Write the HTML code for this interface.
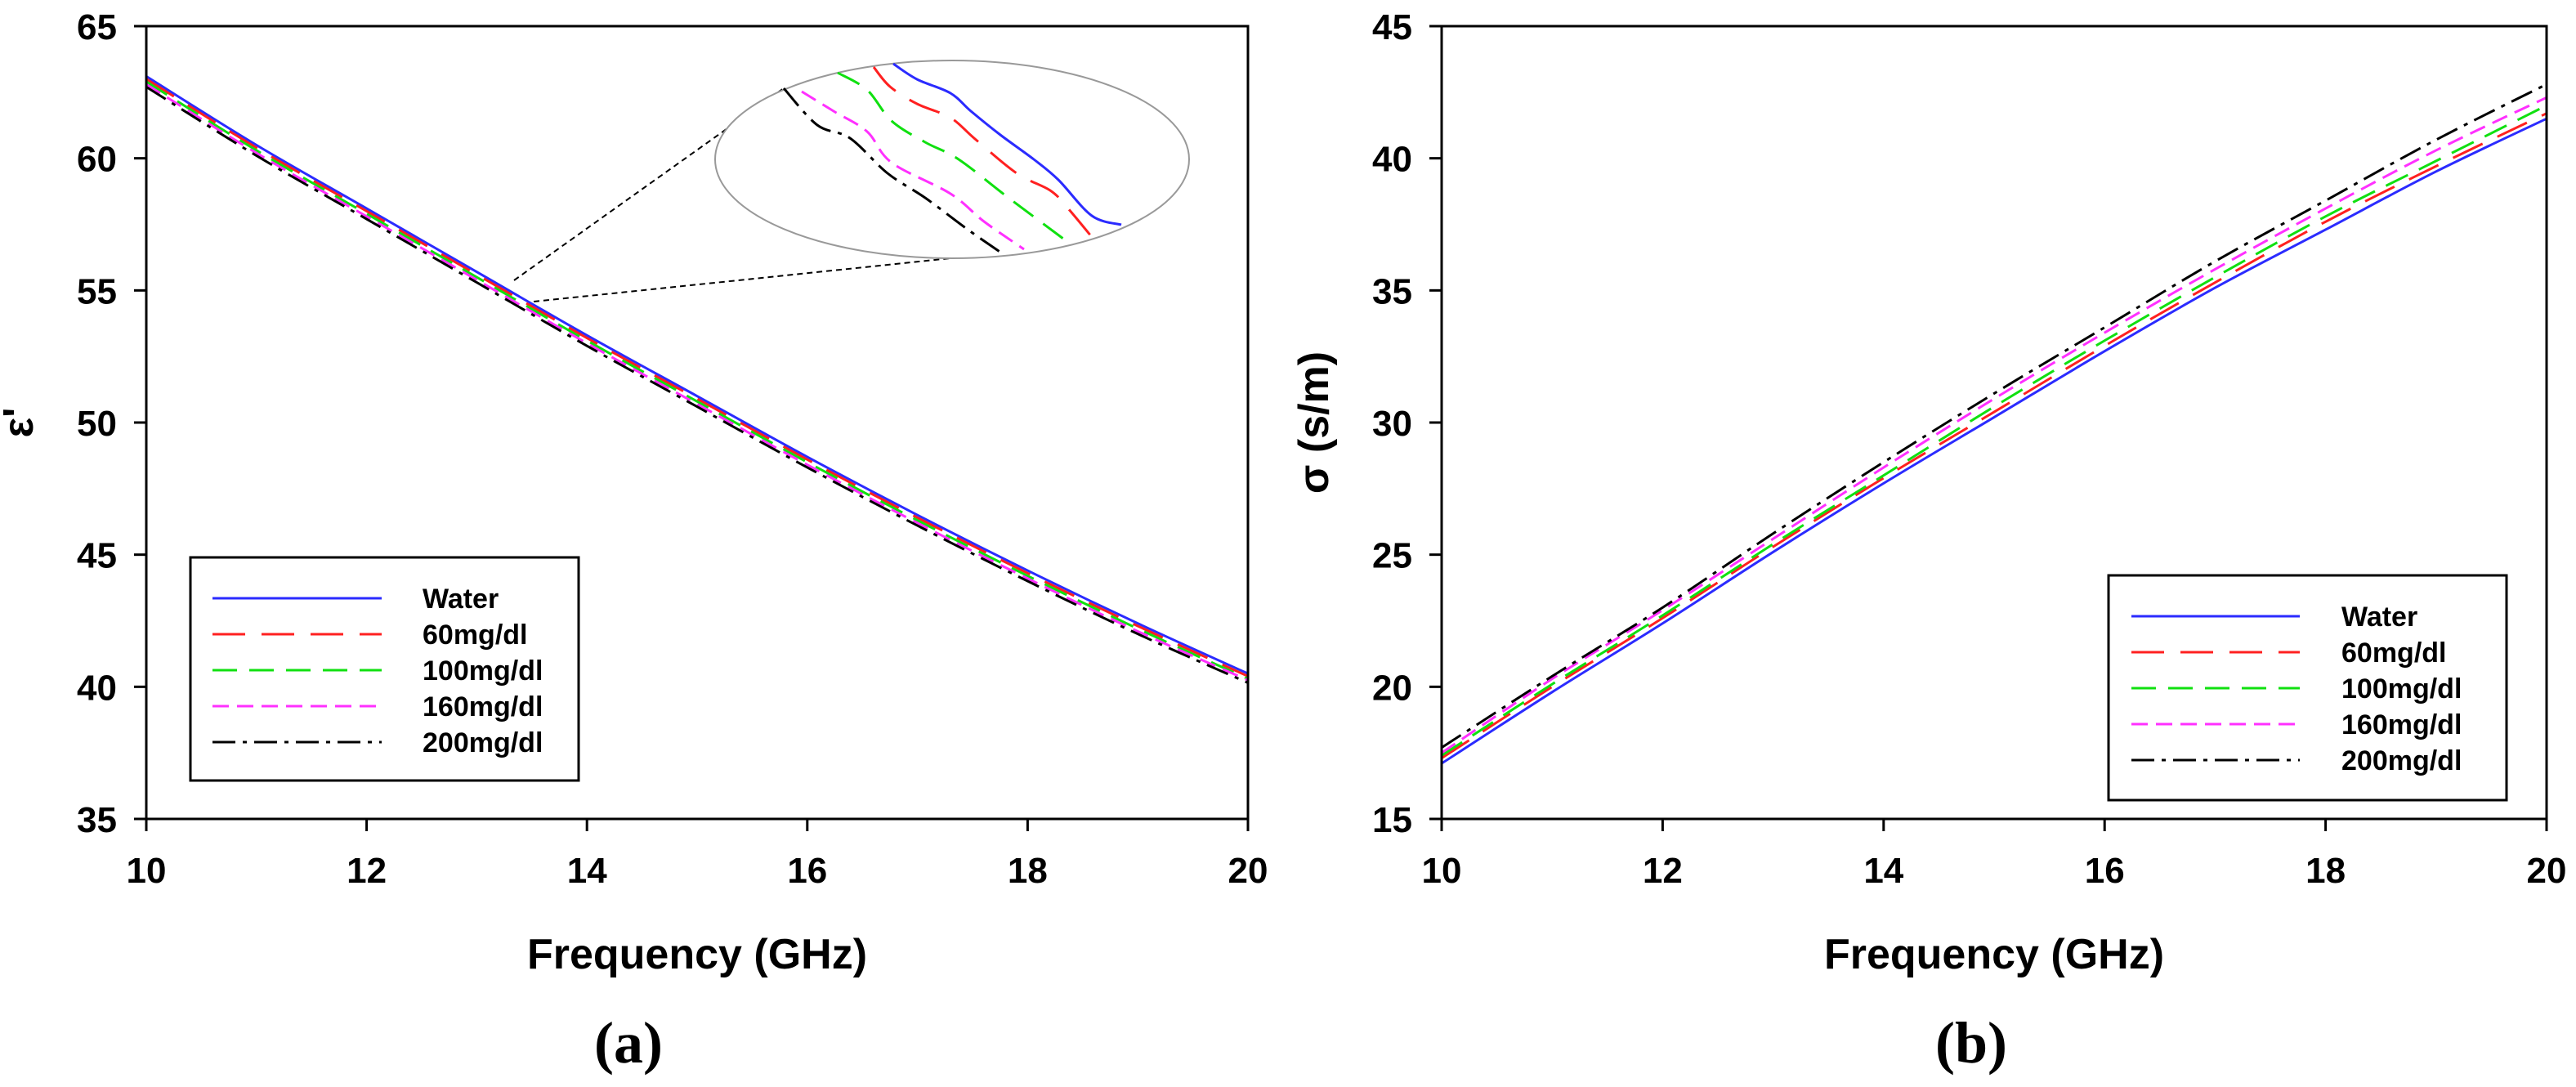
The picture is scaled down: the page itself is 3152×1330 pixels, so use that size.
<!DOCTYPE html>
<html><head><meta charset="utf-8"><style>
body{margin:0;background:#fff}
svg{display:block}
text{font-family:"Liberation Sans",Arial,sans-serif;font-weight:bold;fill:#000}
</style></head><body>
<svg id="fig" width="3152" height="1330" viewBox="0 0 3152 1330" xmlns="http://www.w3.org/2000/svg">
<g id="pa"></g>
<g id="pb"></g>
</svg>
<script>
const freqs=[10,11,12,13,14,15,16,17,18,19,20];
const xTicks=[10,12,14,16,18,20];
const seriesNames=["Water","60mg/dl","100mg/dl","160mg/dl","200mg/dl"];
const epsWater=[63.1,60.5,58.1,55.7,53.3,51.0,48.7,46.5,44.4,42.4,40.5];
const eps60=[63.0,60.4,58.0,55.6,53.2,50.9,48.6,46.4,44.3,42.3,40.4];
const eps100=[62.9,60.3,57.9,55.5,53.1,50.8,48.5,46.3,44.2,42.2,40.3];
const eps160=[62.8,60.2,57.8,55.4,53.0,50.7,48.4,46.2,44.1,42.1,40.25];
const eps200=[62.7,60.1,57.7,55.3,52.9,50.6,48.3,46.1,44.0,42.0,40.15];
const epsTicks=[35,40,45,50,55,60,65];
const sigWater=[17.1,19.8,22.4,25.1,27.7,30.2,32.7,35.1,37.3,39.5,41.5];
const sig60=[17.3,20.0,22.6,25.3,27.9,30.4,32.9,35.3,37.6,39.7,41.7];
const sig100=[17.4,20.1,22.7,25.4,28.0,30.6,33.1,35.5,37.8,39.9,42.0];
const sig160=[17.5,20.3,22.9,25.6,28.3,30.9,33.4,35.8,38.1,40.3,42.3];
const sig200=[17.7,20.4,23.0,25.8,28.5,31.1,33.6,36.1,38.4,40.7,42.8];
const sigTicks=[15,20,25,30,35,40,45];

const NS="http://www.w3.org/2000/svg";
const styles=[
 {c:"#2b2bff",d:"",w:3},
 {c:"#ff2020",d:"40 20",w:3},
 {c:"#10e010",d:"30 15",w:3},
 {c:"#ff30ff",d:"20 10",w:3},
 {c:"#000",d:"28 9 5 9",w:3}];
function mk(p,t,a){const e=document.createElementNS(NS,t);for(const k in a)e.setAttribute(k,a[k]);p.appendChild(e);return e;}
function path(pts){let s="M"+pts[0][0]+","+pts[0][1];
 for(let i=0;i<pts.length-1;i++){const p0=pts[Math.max(0,i-1)],p1=pts[i],p2=pts[i+1],p3=pts[Math.min(pts.length-1,i+2)];
 s+=" C"+(p1[0]+(p2[0]-p0[0])/6)+","+(p1[1]+(p2[1]-p0[1])/6)+" "+(p2[0]-(p3[0]-p1[0])/6)+","+(p2[1]-(p3[1]-p1[1])/6)+" "+p2[0]+","+p2[1];}
 return s;}
function panel(g,L,R,T,B,ymin,ymax,yt,data,ylab,ylabX,title,capX,leg){
 const sx=v=>L+(v-10)/10*(R-L), sy=v=>B-(v-ymin)/(ymax-ymin)*(B-T);
 data.forEach((arr,k)=>{const st=styles[k];
  const p=mk(g,"path",{d:path(freqs.map((f,i)=>[sx(f),sy(arr[i])])),fill:"none",stroke:st.c,"stroke-width":st.w,"stroke-dasharray":st.d});
  
  });
 const fr=mk(g,"rect",{x:L,y:T,width:R-L,height:B-T,fill:"none",stroke:"#000","stroke-width":3});
 
 xTicks.forEach(v=>{const x=sx(v);mk(g,"line",{x1:x,x2:x,y1:B,y2:B+15,stroke:"#000","stroke-width":3});
  const t=mk(g,"text",{x:x,y:B+78,"text-anchor":"middle","font-size":44});t.textContent=v;
  });
 yt.forEach(v=>{const y=sy(v);mk(g,"line",{x1:L-15,x2:L,y1:y,y2:y,stroke:"#000","stroke-width":3});
  const t=mk(g,"text",{x:L-36,y:y+16,"text-anchor":"end","font-size":44});t.textContent=v;
  });
 const xl=mk(g,"text",{x:(L+R)/2,y:1185,"text-anchor":"middle","font-size":52});xl.textContent="Frequency (GHz)";
 
 const yl=mk(g,"text",{x:ylabX,y:(T+B)/2,"text-anchor":"middle","font-size":52,transform:"rotate(-90 "+ylabX+" "+(T+B)/2+")"});yl.textContent=ylab;
 
 const cp=mk(g,"text",{x:capX,y:1300,"text-anchor":"middle","font-size":72,style:"font-family:'Liberation Serif',serif"});cp.textContent=title;
 
 const lg=mk(g,"g",{});
 mk(lg,"rect",{x:leg.x,y:leg.y,width:leg.w,height:leg.h,fill:"#fff",stroke:"#000","stroke-width":3});
 seriesNames.forEach((n,k)=>{const y=leg.y0+k*leg.dy,st=styles[k];
  const e=mk(lg,"g",{});
  mk(e,"line",{x1:leg.lx1,x2:leg.lx2,y1:y,y2:y,stroke:st.c,"stroke-width":3,"stroke-dasharray":st.d});
  const t=mk(e,"text",{x:leg.tx,y:y+12,"font-size":34});t.textContent=n;});
 return {sx,sy};
}
const ga=document.getElementById("pa"),gb=document.getElementById("pb");
panel(ga,179,1527,32,1002,35,65,epsTicks,[epsWater,eps60,eps100,eps160,eps200],"ε'",40,"(a)",769,
 {x:233,y:682,w:475,h:273,y0:732,dy:44,lx1:260,lx2:467,tx:517});
panel(gb,1764,3116,32,1002,15,45,sigTicks,[sigWater,sig60,sig100,sig160,sig200],"σ (s/m)",1625,"(b)",2412,
 {x:2580,y:704,w:487,h:275,y0:754,dy:44,lx1:2608,lx2:2814,tx:2865});
// inset magnifier
const ins=mk(ga,"g",{});
mk(ins,"line",{x1:629,y1:343,x2:959,y2:108,stroke:"#000","stroke-width":2,"stroke-dasharray":"7 5"});
mk(ins,"line",{x1:653,y1:369,x2:1163,y2:316,stroke:"#000","stroke-width":2,"stroke-dasharray":"7 5"});
mk(ins,"ellipse",{cx:1165,cy:195,rx:290,ry:121,fill:"#fff",stroke:"#999","stroke-width":2});
const insetPts=[
 [[1093,78],[1122,97],[1163,114],[1188,136],[1224,165],[1265,195],[1295,220],[1336,264],[1372,275]],
 [[1069,82],[1089,106],[1122,127],[1163,144],[1193,170],[1244,212],[1285,233],[1306,254],[1336,290]],
 [[1025,89],[1061,110],[1091,148],[1132,174],[1173,195],[1234,242],[1309,298]],
 [[981,112],[1020,136],[1061,161],[1091,199],[1163,237],[1204,271],[1253,305]],
 [[959,108],[1000,153],[1040,169],[1086,212],[1132,242],[1183,280],[1229,312]]];
insetPts.forEach((pts,k)=>{const st=styles[k];
 const p=mk(ins,"path",{d:path(pts),fill:"none",stroke:st.c,"stroke-width":3,"stroke-dasharray":st.d});
 });
</script>
</body></html>
